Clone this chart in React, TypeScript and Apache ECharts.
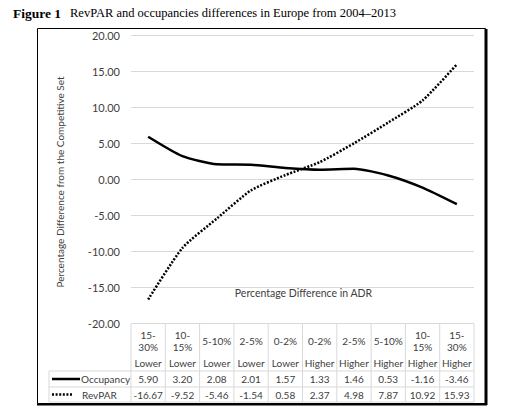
import React, { useEffect, useRef } from "react";
import * as echarts from "echarts";

const rangeTop = ["15-|30%", "10-|15%", "5-10%", "2-5%", "0-2%", "0-2%", "2-5%", "5-10%", "10-|15%", "15-|30%"];
const rangeSide = ["Lower", "Lower", "Lower", "Lower", "Lower", "Higher", "Higher", "Higher", "Higher", "Higher"];
const occupancy = [5.9, 3.2, 2.08, 2.01, 1.57, 1.33, 1.46, 0.53, -1.16, -3.46];
const revpar = [-16.67, -9.52, -5.46, -1.54, 0.58, 2.37, 4.98, 7.87, 10.92, 15.93];
const seriesNames = ["Occupancy", "RevPAR"];
const yMin = -20;
const yMax = 20;
const yStep = 5;

const W = 507;
const H = 408;
const GL = 131;
const GR = 474;
const GT = 35;
const GB = 323.5;
const FONT = "Lato, 'Open Sans', sans-serif";
const TXT = "#404040";
const GRID = "#d9d9d9";

export default function App() {
  const ref = useRef<HTMLDivElement>(null);
  useEffect(() => {
    if (!ref.current) return;
    const chart = echarts.init(ref.current, undefined, { renderer: "svg" });
    const cats = rangeTop.map((t, i) => t.replace("|", "") + " " + rangeSide[i]);
    const n = cats.length;
    const colW = (GR - GL) / n;
    const headBottom = 371;
    const row1Bottom = 387;
    const row2Bottom = 402;
    const labelLeft = 49;
    const g: any[] = [];
    // frame
    g.push({ type: "rect", shape: { x: 37.5, y: 28.5, width: 448, height: 375 }, style: { fill: "none", stroke: "#000", lineWidth: 1 }, z: 1 });
    g.push({ type: "line", shape: { x1: 486, y1: 29, x2: 486, y2: 405 }, style: { stroke: "#000", lineWidth: 3 }, z: 1 });
    g.push({ type: "line", shape: { x1: 37, y1: 404.5, x2: 487, y2: 404.5 }, style: { stroke: "#000", lineWidth: 2 }, z: 1 });
    // table grid lines
    for (let i = 0; i <= n; i++) {
      const x = GL + colW * i;
      g.push({ type: "line", shape: { x1: x, y1: GB, x2: x, y2: row2Bottom }, style: { stroke: GRID, lineWidth: 1 } });
    }
    g.push({ type: "line", shape: { x1: labelLeft, y1: headBottom, x2: labelLeft, y2: row2Bottom }, style: { stroke: GRID, lineWidth: 1 } });
    [headBottom, row1Bottom, row2Bottom].forEach((y) => {
      g.push({ type: "line", shape: { x1: labelLeft, y1: y, x2: GR, y2: y }, style: { stroke: GRID, lineWidth: 1 } });
    });
    const cell = (text: string, x: number, y: number, align = "center") => ({
      type: "text",
      style: { text, x, y, align, verticalAlign: "middle", fill: TXT, font: `10px ${FONT}` },
    });
    // header texts
    for (let i = 0; i < n; i++) {
      const cx = GL + colW * (i + 0.5);
      const parts = rangeTop[i].split("|");
      if (parts.length === 2) {
        g.push(cell(parts[0], cx, 335));
        g.push(cell(parts[1], cx, 347));
      } else {
        g.push(cell(parts[0], cx, 341));
      }
      g.push(cell(rangeSide[i], cx, 363));
      g.push(cell(occupancy[i].toFixed(2), cx, (headBottom + row1Bottom) / 2));
      g.push(cell(revpar[i].toFixed(2), cx, (row1Bottom + row2Bottom) / 2));
    }
    // row labels with legend keys
    const r1 = (headBottom + row1Bottom) / 2;
    const r2 = (row1Bottom + row2Bottom) / 2;
    g.push({ type: "line", shape: { x1: 52, y1: r1, x2: 80, y2: r1 }, style: { stroke: "#000", lineWidth: 2.5 } });
    g.push(cell(seriesNames[0], 81, r1, "left"));
    g.push({ type: "line", shape: { x1: 52, y1: r2, x2: 73, y2: r2 }, style: { stroke: "#000", lineWidth: 2.5, lineDash: [2, 1.6] } });
    g.push(cell(seriesNames[1], 82, r2, "left"));
    // axis titles
    g.push({ type: "text", style: { text: "Percentage Difference in ADR", x: 303.5, y: 293, align: "center", verticalAlign: "middle", fill: TXT, font: `10.5px ${FONT}` } });
    g.push({
      type: "text",
      x: 60,
      y: 182,
      rotation: Math.PI / 2,
      style: { text: "Percentage Difference from the Competitive Set", x: 0, y: 0, align: "center", verticalAlign: "middle", fill: TXT, font: `10px ${FONT}` },
    });
    // title
    g.push({ type: "text", style: { text: "Figure 1", x: 13, y: 13, align: "left", verticalAlign: "middle", fill: "#000", font: `bold 13.5px 'Liberation Serif', 'DejaVu Serif', serif` } });
    g.push({ type: "text", style: { text: "RevPAR and occupancies differences in Europe from 2004\u20132013", x: 70, y: 13, align: "left", verticalAlign: "middle", fill: "#000", font: `12.5px 'Liberation Serif', 'DejaVu Serif', serif` } });

    chart.setOption({
      animation: false,
      backgroundColor: "#fff",
      grid: { left: GL, right: W - GR, top: GT, bottom: H - GB, containLabel: false },
      xAxis: {
        type: "category",
        data: cats,
        boundaryGap: true,
        axisLine: { show: false },
        axisTick: { show: false },
        axisLabel: { show: false },
      },
      yAxis: {
        type: "value",
        min: yMin,
        max: yMax,
        interval: yStep,
        axisLine: { show: false },
        axisTick: { show: false },
        splitLine: { lineStyle: { color: GRID, width: 1 } },
        axisLabel: { formatter: (v: number) => v.toFixed(2), color: TXT, fontFamily: FONT, fontSize: 11, margin: 11 },
      },
      series: [
        {
          name: seriesNames[0],
          type: "line",
          data: occupancy,
          smooth: 0.2,
          symbol: "none",
          lineStyle: { color: "#000", width: 2.5, type: "solid" },
        },
        {
          name: seriesNames[1],
          type: "line",
          data: revpar,
          smooth: 0.2,
          symbol: "none",
          lineStyle: { color: "#000", width: 2.5, type: [2, 1.6] },
        },
      ],
      graphic: g,
    });
    return () => chart.dispose();
  }, []);
  return <div ref={ref} style={{ position: "fixed", left: 0, top: 0, width: W, height: H, background: "#fff" }} />;
}
